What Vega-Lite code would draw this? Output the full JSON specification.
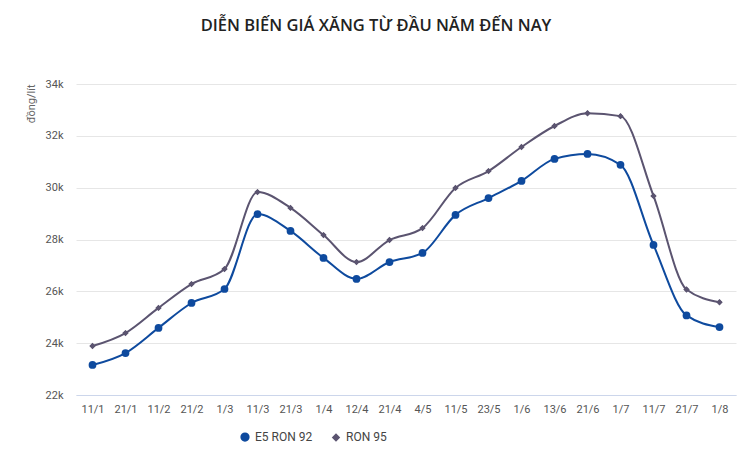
{
  "$schema": "https://vega.github.io/schema/vega-lite/v6.json",
  "autosize": {"type": "none"},
  "width": 660,
  "height": 311,
  "padding": {"left": 76, "top": 84, "right": 18, "bottom": 69},
  "background": "white",
  "title": {
    "text": "DIỄN BIẾN GIÁ XĂNG TỪ ĐẦU NĂM ĐẾN NAY",
    "font": "Open Sans",
    "fontSize": 16.5,
    "fontWeight": 600,
    "color": "#222222",
    "anchor": "middle",
    "dx": -30,
    "offset": 44
  },
  "data": {
    "values": [
      {"date": "11/1", "series": "E5 RON 92", "price": 23160},
      {"date": "21/1", "series": "E5 RON 92", "price": 23620},
      {"date": "11/2", "series": "E5 RON 92", "price": 24590},
      {"date": "21/2", "series": "E5 RON 92", "price": 25550},
      {"date": "1/3", "series": "E5 RON 92", "price": 26090},
      {"date": "11/3", "series": "E5 RON 92", "price": 28980},
      {"date": "21/3", "series": "E5 RON 92", "price": 28330},
      {"date": "1/4", "series": "E5 RON 92", "price": 27290},
      {"date": "12/4", "series": "E5 RON 92", "price": 26480},
      {"date": "21/4", "series": "E5 RON 92", "price": 27130},
      {"date": "4/5", "series": "E5 RON 92", "price": 27480},
      {"date": "11/5", "series": "E5 RON 92", "price": 28950},
      {"date": "23/5", "series": "E5 RON 92", "price": 29600},
      {"date": "1/6", "series": "E5 RON 92", "price": 30260},
      {"date": "13/6", "series": "E5 RON 92", "price": 31110},
      {"date": "21/6", "series": "E5 RON 92", "price": 31300},
      {"date": "1/7", "series": "E5 RON 92", "price": 30880},
      {"date": "11/7", "series": "E5 RON 92", "price": 27790},
      {"date": "21/7", "series": "E5 RON 92", "price": 25070},
      {"date": "1/8", "series": "E5 RON 92", "price": 24620},
      {"date": "11/1", "series": "RON 95", "price": 23890},
      {"date": "21/1", "series": "RON 95", "price": 24390},
      {"date": "11/2", "series": "RON 95", "price": 25360},
      {"date": "21/2", "series": "RON 95", "price": 26280},
      {"date": "1/3", "series": "RON 95", "price": 26860},
      {"date": "11/3", "series": "RON 95", "price": 29830},
      {"date": "21/3", "series": "RON 95", "price": 29220},
      {"date": "1/4", "series": "RON 95", "price": 28170},
      {"date": "12/4", "series": "RON 95", "price": 27130},
      {"date": "21/4", "series": "RON 95", "price": 27980},
      {"date": "4/5", "series": "RON 95", "price": 28440},
      {"date": "11/5", "series": "RON 95", "price": 29990},
      {"date": "23/5", "series": "RON 95", "price": 30640},
      {"date": "1/6", "series": "RON 95", "price": 31570},
      {"date": "13/6", "series": "RON 95", "price": 32380},
      {"date": "21/6", "series": "RON 95", "price": 32870},
      {"date": "1/7", "series": "RON 95", "price": 32760},
      {"date": "11/7", "series": "RON 95", "price": 29680},
      {"date": "21/7", "series": "RON 95", "price": 26070},
      {"date": "1/8", "series": "RON 95", "price": 25580}
    ]
  },
  "encoding": {
    "x": {
      "field": "date",
      "type": "ordinal",
      "sort": null,
      "scale": {"type": "point", "padding": 0.5},
      "axis": {
        "title": null,
        "labelAngle": 0,
        "labelFont": "Roboto",
        "labelFontSize": 11,
        "labelColor": "#555555",
        "labelPadding": 8,
        "ticks": false,
        "domainColor": "#ccd6eb",
        "domainWidth": 1,
        "grid": false
      }
    },
    "y": {
      "field": "price",
      "type": "quantitative",
      "scale": {"domain": [22000, 34000], "nice": false, "zero": false},
      "axis": {
        "values": [22000, 24000, 26000, 28000, 30000, 32000, 34000],
        "format": "~s",
        "title": "đồng/lít",
        "titleFont": "Roboto",
        "titleFontSize": 11,
        "titleFontWeight": "normal",
        "titleColor": "#666666",
        "titleAnchor": "end",
        "titleAngle": -90,
        "titleAlign": "right",
        "titleBaseline": "bottom",
        "titleX": -40,
        "titleY": 0,
        "labelFont": "Roboto",
        "labelFontSize": 11,
        "labelColor": "#555555",
        "labelPadding": 13,
        "ticks": false,
        "domain": false,
        "grid": true,
        "gridColor": "#e6e6e6",
        "gridWidth": 1
      }
    },
    "color": {
      "field": "series",
      "type": "nominal",
      "scale": {"domain": ["E5 RON 92", "RON 95"], "range": ["#0e4a9e", "#5b5470"]},
      "legend": {
        "title": null,
        "orient": "none",
        "direction": "horizontal",
        "legendX": 163,
        "legendY": 347,
        "labelFont": "Roboto",
        "labelFontSize": 12,
        "labelColor": "#444444",
        "symbolSize": 50,
        "columnPadding": 16,
        "labelOffset": 4
      }
    },
    "shape": {
      "field": "series",
      "type": "nominal",
      "scale": {"domain": ["E5 RON 92", "RON 95"], "range": ["circle", "diamond"]},
      "legend": {
        "title": null,
        "orient": "none",
        "direction": "horizontal",
        "legendX": 163,
        "legendY": 347,
        "labelFont": "Roboto",
        "labelFontSize": 12,
        "labelColor": "#444444",
        "symbolSize": 50,
        "columnPadding": 16,
        "labelOffset": 4
      }
    }
  },
  "layer": [
    {
      "mark": {"type": "line", "interpolate": "monotone", "strokeWidth": 2}
    },
    {
      "mark": {"type": "point", "filled": true, "opacity": 1},
      "encoding": {
        "size": {
          "field": "series",
          "type": "nominal",
          "scale": {"domain": ["E5 RON 92", "RON 95"], "range": [60, 40]},
          "legend": null
        }
      }
    }
  ],
  "config": {
    "view": {"stroke": null}
  }
}
